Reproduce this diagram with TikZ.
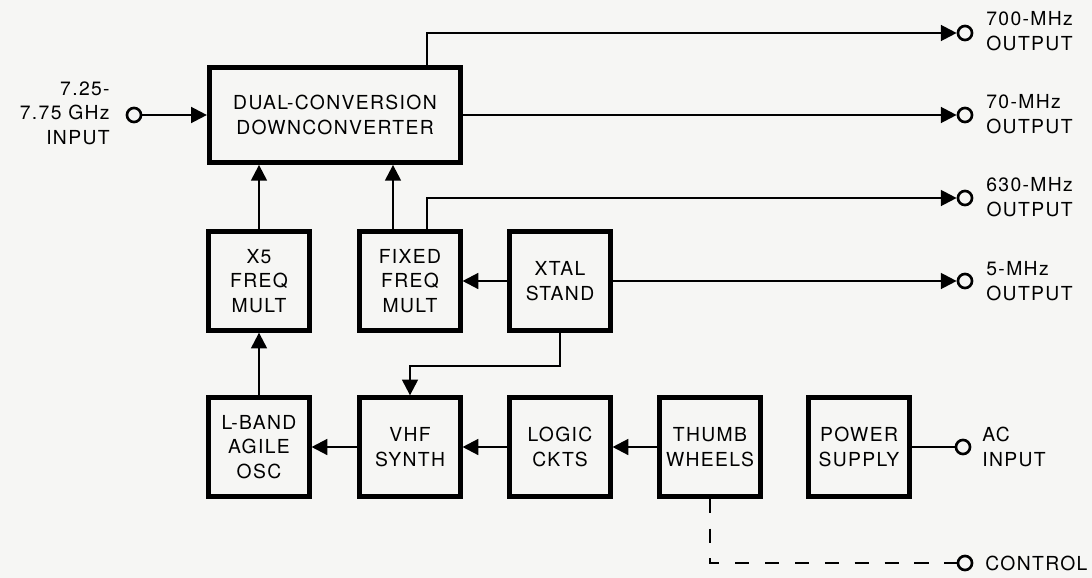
\documentclass[tikz,border=0pt]{standalone}
\usepackage{fontspec}
\setmainfont[LetterSpace=7]{TeX Gyre Heros}
\usetikzlibrary{arrows.meta,calc}
\definecolor{PaperGray}{RGB}{246,246,244}

\begin{document}
\begin{tikzpicture}[x=0.02cm,y=-0.02cm,
  font=\fontsize{11}{14}\selectfont,
  blk/.style={draw,line width=2.8pt,align=center,minimum width=57pt,minimum height=56pt,inner sep=1pt},
  port/.style={circle,draw,line width=1.5pt,inner sep=0pt,minimum size=8pt},
  lbl/.style={align=left,inner sep=0pt,anchor=west},
  sig/.style={line width=1.3pt},
  ar/.style={sig,-{Triangle[length=9pt,width=9pt]}}]
  \fill[PaperGray] (0,0) rectangle (1092,578);
  \useasboundingbox (0,0) rectangle (1092,578);
  % blocks
  \node[blk,minimum width=143pt,minimum height=54pt] (dconv) at (335,115) {DUAL-CONVERSION\\DOWNCONVERTER};
  \node[blk] (xfive) at (259,281) {X5\\FREQ\\MULT};
  \node[blk] (ffmult) at (410,281) {FIXED\\FREQ\\MULT};
  \node[blk] (xtal) at (560,281) {XTAL\\STAND};
  \node[blk] (lband) at (259,447) {L-BAND\\AGILE\\OSC};
  \node[blk] (vhf) at (410,447) {VHF\\SYNTH};
  \node[blk] (logic) at (560,447) {LOGIC\\CKTS};
  \node[blk] (thumb) at (710,447) {THUMB\\WHEELS};
  \node[blk] (psupply) at (859,447) {POWER\\SUPPLY};
  % terminals
  \node[port] (inp) at (134,115) {};
  \foreach \nm/\yy in {o700/33,o70/115,o630/198,o5/281}
    \node[port] (\nm) at (965,\yy) {};
  \node[port] (acin) at (963,447) {};
  \node[port] (ctrl) at (965,563) {};
  \node[lbl,align=right,anchor=east] (inplbl) at (110,113) {7.25-\\7.75 GHz\\INPUT};
  \node[lbl] (l700) at (986,31) {700-MHz\\OUTPUT};
  \node[lbl] (l70) at (986,114) {70-MHz\\OUTPUT};
  \node[lbl,align=center] (l630) at (986,197) {630-MHz\\OUTPUT};
  \node[lbl] (l5) at (986,281) {5-MHz\\OUTPUT};
  \node[lbl] (lac) at (982,447) {AC\\INPUT};
  \node[lbl] (lctrl) at (985,563) {CONTROL};
  % signal paths
  \coordinate (tap) at (427,0);
  \coordinate (fftap) at (393,0);
  \draw[ar] (inp) -- (dconv.west);
  \draw[ar] (tap |- dconv.north) |- (o700);
  \draw[ar] (dconv.east) -- (o70);
  \draw[ar] (tap |- ffmult.north) |- (o630);
  \draw[ar] (xtal.east) -- (o5);
  \draw[ar] (xtal.west) -- (ffmult.east);
  \draw[ar] (xfive.north) -- (xfive.north |- dconv.south);
  \draw[ar] (fftap |- ffmult.north) -- (fftap |- dconv.south);
  \draw[ar] (lband.north) -- (xfive.south);
  \draw[ar] (xtal.south) -- ++(0,33) -| (vhf.north);
  \draw[ar] (vhf.west) -- (lband.east);
  \draw[ar] (logic.west) -- (vhf.east);
  \draw[ar] (thumb.west) -- (logic.east);
  \draw[sig] (psupply.east) -- (acin);
  \draw[sig,dash pattern=on 8pt off 9pt] (thumb.south) |- (ctrl);
\end{tikzpicture}
\end{document}
